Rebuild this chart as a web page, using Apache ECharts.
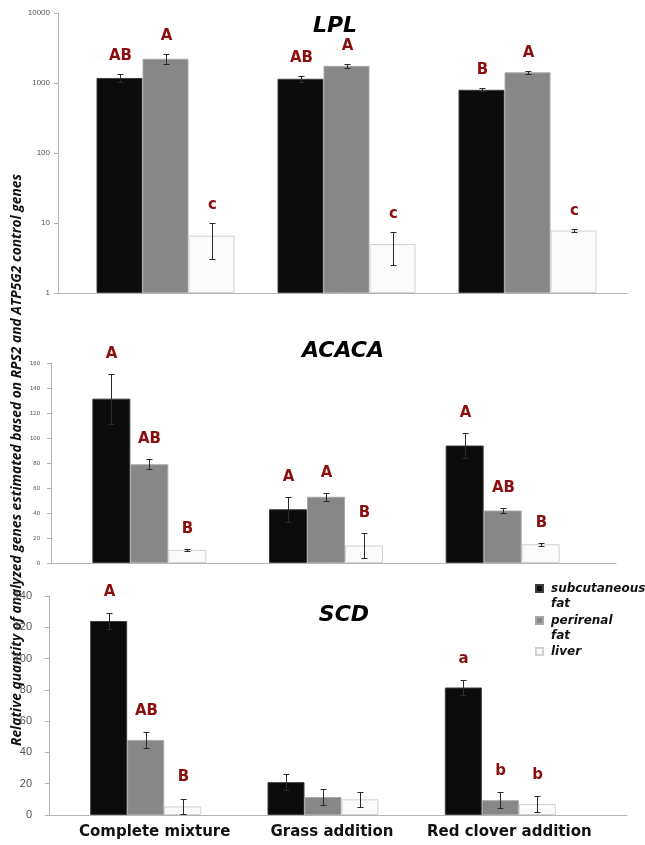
<!DOCTYPE html>
<html><head><meta charset="utf-8">
<script src="https://cdn.jsdelivr.net/npm/echarts@6/dist/echarts.min.js"></script>
<style>html,body{margin:0;padding:0;background:#fff}#c{width:645px;height:845px}</style>
</head><body><div id="c"></div>
<script>
// ---------------- data ----------------
const groups = ['Complete mixture', 'Grass addition', 'Red clover addition'];
const tissues = ['subcutaneous fat', 'perirenal fat', 'liver'];

const lplTicks = [1, 10, 100, 1000, 10000];
const lplSubcut = [1180, 1150, 800];
const lplSubcutErr = [150, 120, 40];
const lplPeri = [2220, 1760, 1420];
const lplPeriErr = [350, 110, 80];
const lplLiver = [6.6, 5.0, 7.8];
const lplLiverErr = [3.5, 2.5, 0.4];
const lplLetSubcut = ['AB', 'AB', 'B'];
const lplLetPeri = ['A', 'A', 'A'];
const lplLetLiver = ['c', 'c', 'c'];

const acacaTicks = [0, 20, 40, 60, 80, 100, 120, 140, 160];
const acacaSubcut = [131.5, 43, 94];
const acacaSubcutErr = [20, 10, 10];
const acacaPeri = [79, 53, 42];
const acacaPeriErr = [4, 3, 2];
const acacaLiver = [10.5, 14, 15];
const acacaLiverErr = [0.5, 10, 1];
const acacaLetSubcut = ['A', 'A', 'A'];
const acacaLetPeri = ['AB', 'A', 'AB'];
const acacaLetLiver = ['B', 'B', 'B'];

const scdTicks = [0, 20, 40, 60, 80, 100, 120, 140];
const scdSubcut = [124, 21, 81.5];
const scdSubcutErr = [5, 5, 5];
const scdPeri = [48, 11.5, 9.5];
const scdPeriErr = [5, 5, 5];
const scdLiver = [5.5, 10, 7];
const scdLiverErr = [5, 5, 5];
const scdLetSubcut = ['A', '', 'a'];
const scdLetPeri = ['AB', '', 'b'];
const scdLetLiver = ['B', '', 'b'];

const yTitle = 'Relative quantity of analyzed genes estimated based on RPS2 and ATP5G2 control genes';

// ---------------- styles ----------------
const barStyles = [
  { color: '#0b0b0b', borderColor: '#3c3c3c', borderWidth: 1 },
  { color: '#878787', borderColor: '#a8a8a8', borderWidth: 1 },
  { color: '#fbfbfb', borderColor: '#d2d2d2', borderWidth: 1 }
];
const letterColor = '#8b0f0f';
const axisGray = '#b4b4b4';

const panels = [
  { title: 'LPL', log: true, ticks: lplTicks, means: [lplSubcut, lplPeri, lplLiver], errs: [lplSubcutErr, lplPeriErr, lplLiverErr],
    letters: [lplLetSubcut, lplLetPeri, lplLetLiver], gridA: { left: 75, width: 543, top: 13, height: 280 },
    gridB: { left: 58, width: 569, top: 13, height: 280 }, bw: 46, labSize: 8, labMargin: 8, letOff: 18, showX: false,
    titlePos: [335, 26] },
  { title: 'ACACA', log: false, ticks: acacaTicks, means: [acacaSubcut, acacaPeri, acacaLiver], errs: [acacaSubcutErr, acacaPeriErr, acacaLiverErr],
    letters: [acacaLetSubcut, acacaLetPeri, acacaLetLiver], gridA: { left: 61, width: 530, top: 363, height: 200 },
    gridB: { left: 51, width: 565, top: 363, height: 200 }, bw: 38, labSize: 6, labMargin: 11, letOff: 20, showX: false,
    titlePos: [343, 351] },
  { title: 'SCD', log: false, ticks: scdTicks, means: [scdSubcut, scdPeri, scdLiver], errs: [scdSubcutErr, scdPeriErr, scdLiverErr],
    letters: [scdLetSubcut, scdLetPeri, scdLetLiver], gridA: { left: 57, width: 532, top: 596, height: 219 },
    gridB: { left: 49, width: 578, top: 596, height: 219 }, bw: 37, labSize: 11, labMargin: 17, letOff: 21, showX: true,
    titlePos: [344, 615] }
];

function errRender(k, letters, bw, off) {
  return function (params, api) {
    const i = api.value(0);
    const lo = api.coord([i, api.value(1)]);
    const hi = api.coord([i, api.value(2)]);
    const x = Math.round(lo[0] + (k - 1) * bw) + 0.5;
    const y1 = Math.round(lo[1]) + 0.5, y2 = Math.round(hi[1]) + 0.5;
    const cap = 3;
    const st = { stroke: '#2a2a2a', lineWidth: 1 };
    const children = [
      { type: 'line', shape: { x1: x, y1: y1, x2: x, y2: y2 }, style: st },
      { type: 'line', shape: { x1: x - cap, y1: y1, x2: x + cap, y2: y1 }, style: st },
      { type: 'line', shape: { x1: x - cap, y1: y2, x2: x + cap, y2: y2 }, style: st }
    ];
    const t = letters[params.dataIndex];
    if (t) {
      children.push({ type: 'text', x: x, y: hi[1] - off,
        style: { text: t, fill: letterColor, font: 'bold 15px "DejaVu Sans"', textAlign: 'center', textVerticalAlign: 'middle' } });
    }
    return { type: 'group', children: children };
  };
}

const grid = [], xAxis = [], yAxis = [], series = [], graphic = [];
panels.forEach(function (p, pi) {
  const gB = pi * 2, gA = pi * 2 + 1;
  grid.push(Object.assign({ containLabel: false }, p.gridB));
  grid.push(Object.assign({ containLabel: false }, p.gridA));
  const yRange = p.log
    ? { type: 'log', logBase: 10, min: p.ticks[0], max: p.ticks[p.ticks.length - 1] }
    : { type: 'value', min: p.ticks[0], max: p.ticks[p.ticks.length - 1], interval: p.ticks[1] - p.ticks[0] };
  // axis grid (visible axis lines + y labels)
  xAxis.push({ type: 'category', gridIndex: gB, data: groups, axisLine: { show: true, lineStyle: { color: axisGray } },
    axisTick: { show: false }, axisLabel: { show: false }, splitLine: { show: false } });
  yAxis.push(Object.assign({ gridIndex: gB, axisLine: { show: true, lineStyle: { color: axisGray } },
    axisTick: { show: true, inside: false, length: 4, lineStyle: { color: axisGray } },
    splitLine: { show: false }, minorTick: { show: false },
    axisLabel: { show: true, fontSize: p.labSize, color: '#555', fontFamily: 'Liberation Sans', margin: p.labMargin,
      formatter: function (v) { return String(Math.round(v)); } } }, yRange));
  // bar grid
  xAxis.push({ type: 'category', gridIndex: gA, data: groups, axisLine: { show: false }, axisTick: { show: false },
    splitLine: { show: false },
    axisLabel: { show: p.showX, interval: 0, fontSize: 15, fontWeight: 'bold', color: '#111', fontFamily: 'DejaVu Sans',
      margin: 10, padding: [0, 0, 0, 18] } });
  yAxis.push(Object.assign({ gridIndex: gA, show: false, splitLine: { show: false } }, yRange));

  for (let k = 0; k < 3; k++) {
    series.push({ type: 'bar', name: tissues[k], xAxisIndex: gA, yAxisIndex: gA, data: p.means[k],
      barWidth: p.bw, barGap: '0%', itemStyle: barStyles[k], animation: false, silent: true, z: 2 });
  }
  for (let k = 0; k < 3; k++) {
    const m = p.means[k], e = p.errs[k];
    series.push({ type: 'custom', xAxisIndex: gA, yAxisIndex: gA, z: 5, animation: false, silent: true, clip: false,
      encode: { x: 0, y: [1, 2] },
      data: groups.map(function (g, i) { return [i, m[i] - e[i], m[i] + e[i]]; }),
      renderItem: errRender(k, p.letters[k], p.bw, p.letOff) });
  }
  graphic.push({ type: 'text', x: p.titlePos[0], y: p.titlePos[1],
    style: { text: p.title, font: 'italic bold 22px "DejaVu Sans"', fill: '#000', textAlign: 'center', textVerticalAlign: 'middle' } });
});

graphic.push({ type: 'text', x: 17, y: 460, rotation: Math.PI / 2,
  style: { text: yTitle, font: 'italic bold 13.8px "Open Sans"', fill: '#111', textAlign: 'center', textVerticalAlign: 'middle' } });

const chart = echarts.init(document.getElementById('c'), null, { renderer: 'canvas' });
chart.setOption({
  backgroundColor: '#fff',
  animation: false,
  grid: grid, xAxis: xAxis, yAxis: yAxis, series: series, graphic: graphic,
  legend: {
    left: 535, top: 566, orient: 'vertical', itemWidth: 7, itemHeight: 7, itemGap: -13, padding: 0,
    icon: 'rect', selectedMode: false,
    formatter: function (n) { return n.indexOf(' ') > 0 ? '\n' + n.replace(' ', '\n') : n; },
    textStyle: { fontFamily: 'DejaVu Sans', fontWeight: 'bold', fontStyle: 'italic', fontSize: 12, lineHeight: 15,
      color: '#111', padding: [0, 0, 0, 3] },
    data: [{ name: tissues[0] }, { name: tissues[1] }, { name: tissues[2], textStyle: { padding: [14, 0, 14, 3] } }]
  }
});
</script></body></html>
